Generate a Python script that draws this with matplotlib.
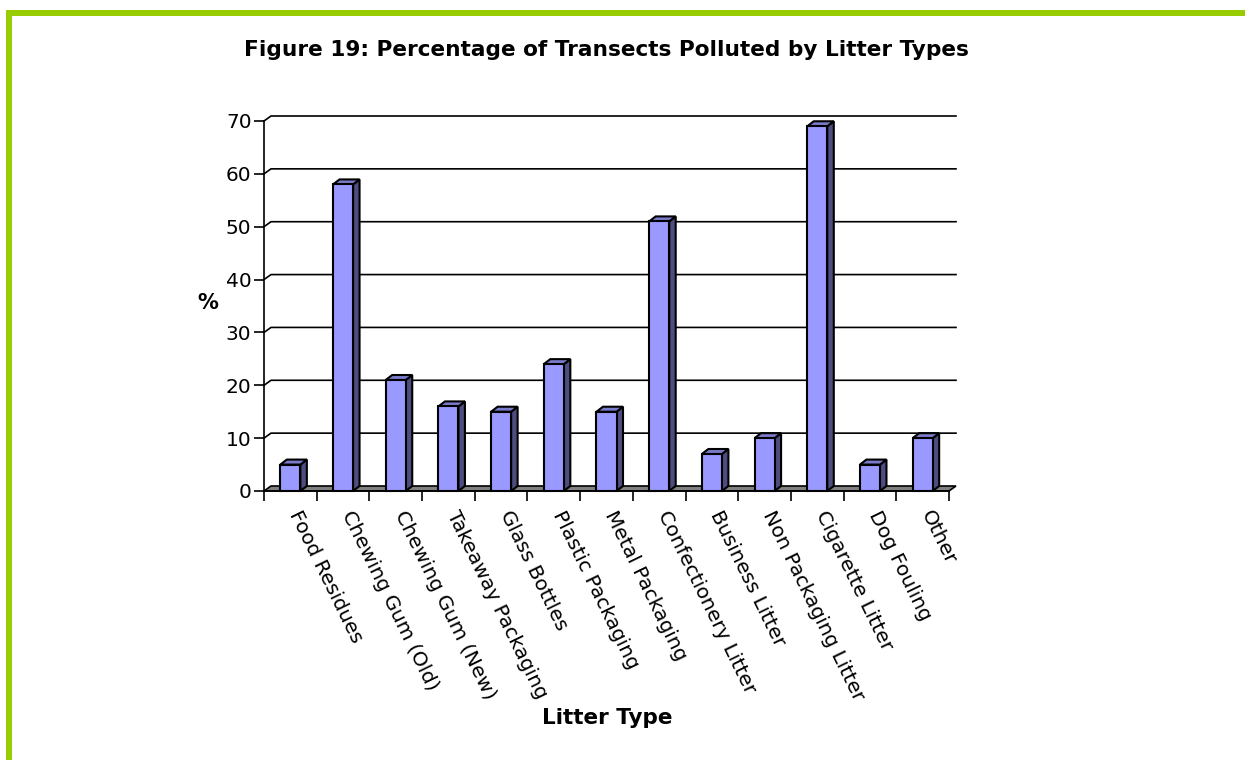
import numpy as np
import matplotlib.pyplot as plt
from matplotlib.patches import Polygon, Rectangle
from matplotlib.transforms import ScaledTranslation

# Litter survey results
categories = ["Food Residues", "Chewing Gum (Old)", "Chewing Gum (New)",
              "Takeaway Packaging", "Glass Bottles", "Plastic Packaging",
              "Metal Packaging", "Confectionery Litter", "Business Litter",
              "Non Packaging Litter", "Cigarette Litter", "Dog Fouling", "Other"]
percent = [5, 58, 21, 16, 15, 24, 15, 51, 7, 10, 69, 5, 10]
yticks = [0, 10, 20, 30, 40, 50, 60, 70]

FRONT = "#9999ff"
TOP = "#7b7bcc"
SIDE = "#4d4d80"
FLOOR = "#808080"
GREEN = "#99cc00"

W, H = 1245, 760
fig = plt.figure(figsize=(W / 100, H / 100), dpi=100)

# front plane of the plot area, in pixels
left, right, bottom, top = 264, 949, 491, 121
ax = fig.add_axes([left / W, 1 - bottom / H, (right - left) / W, (bottom - top) / H])

n = len(categories)
x = np.arange(n)
ax.set_xlim(-0.5, n - 0.5)
ax.set_ylim(0, 70)

# 3d depth offsets (data units)
px_x = n / (right - left)
px_y = 70 / (bottom - top)
wall_dx, wall_dy = 7 * px_x, 5 * px_y
bar_dx, bar_dy = 6.5 * px_x, 5 * px_y
bw = 0.38

# back wall gridlines with the slanted joins to the axis
for v in yticks[1:]:
    ax.plot([-0.5, -0.5 + wall_dx, n - 0.5 + wall_dx], [v, v + wall_dy, v + wall_dy],
            color="black", lw=1.2, clip_on=False, zorder=1)

# floor
ax.add_patch(Polygon([(-0.5, 0), (n - 0.5, 0), (n - 0.5 + wall_dx, wall_dy),
                      (-0.5 + wall_dx, wall_dy)], closed=True, facecolor=FLOOR,
                     edgecolor="black", lw=1.2, clip_on=False, zorder=2))

# bars: front face plus top and side faces
ax.bar(x, percent, width=bw, color=FRONT, edgecolor="black", lw=1.5, zorder=4, clip_on=False)
for xi, v in zip(x, percent):
    xr = xi + bw / 2
    xl = xi - bw / 2
    ax.add_patch(Polygon([(xr, 0), (xr + bar_dx, bar_dy), (xr + bar_dx, v + bar_dy), (xr, v)],
                         closed=True, facecolor=SIDE, edgecolor="black", lw=1.5,
                         clip_on=False, zorder=3))
    ax.add_patch(Polygon([(xl, v), (xr, v), (xr + bar_dx, v + bar_dy), (xl + bar_dx, v + bar_dy)],
                         closed=True, facecolor=TOP, edgecolor="black", lw=1.5,
                         clip_on=False, zorder=3))

for s in ["top", "right"]:
    ax.spines[s].set_visible(False)
ax.spines["left"].set_linewidth(1.2)
ax.spines["bottom"].set_linewidth(1.2)
ax.spines["bottom"].set_zorder(5)
ax.patch.set_visible(False)

ax.set_yticks(yticks)
ax.tick_params(axis="y", length=7, width=1.2, pad=2, labelsize=14.5)
ax.set_xticks(np.arange(n + 1) - 0.5)
ax.set_xticklabels([])
ax.tick_params(axis="x", which="major", length=7, width=1.2)
ax.set_xticks(x, minor=True)
ax.set_xticklabels(categories, minor=True, rotation=-64, ha="left", va="top",
                   rotation_mode="anchor", fontsize=14.5)
ax.tick_params(axis="x", which="minor", length=0, pad=12)
shift = ScaledTranslation(0.12, 0, fig.dpi_scale_trans)
for lbl in ax.get_xticklabels(minor=True):
    lbl.set_transform(lbl.get_transform() + shift)

fig.text(606 / W, 1 - 50 / H, "Figure 19: Percentage of Transects Polluted by Litter Types",
         ha="center", va="center", fontsize=15.6, fontweight="bold")
fig.text(208 / W, 1 - 303 / H, "%", ha="center", va="center", fontsize=15, fontweight="bold")
fig.text(607 / W, 1 - 718 / H, "Litter Type", ha="center", va="center",
         fontsize=15.5, fontweight="bold")

# green frame on the top and left edges
fig.add_artist(Rectangle((6 / W, 0), 6 / W, 1 - 10 / H, transform=fig.transFigure,
                         facecolor=GREEN, edgecolor="none"))
fig.add_artist(Rectangle((6 / W, 1 - 16 / H), 1 - 6 / W, 6 / H, transform=fig.transFigure,
                         facecolor=GREEN, edgecolor="none"))

fig.savefig("out.png", dpi=100)
